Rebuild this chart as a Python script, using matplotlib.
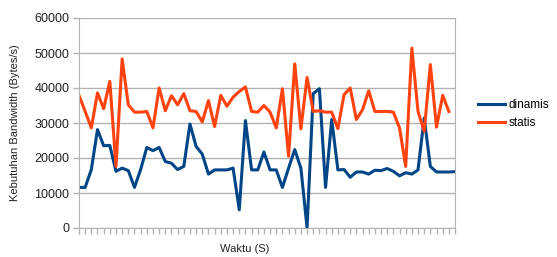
import numpy as np
import matplotlib
matplotlib.use("Agg")
import matplotlib.pyplot as plt

plt.rcParams["font.family"] = ["Liberation Sans", "DejaVu Sans"]

# nilai
dinamis = [11600, 11600, 16700, 28100, 23500, 23600, 16200, 17100, 16400, 11600,
           16700, 23000, 22100, 23000, 19000, 18500, 16700, 17600, 29700, 23300,
           21100, 15400, 16600, 16600, 16600, 17100, 5200, 30700, 16600, 16600,
           21700, 16600, 16600, 11600, 17100, 22400, 17100, 0, 38400, 39800,
           11600, 31000, 16600, 16700, 14500, 16000, 16000, 15400, 16500, 16400,
           17000, 16200, 14900, 15800, 15400, 16600, 31400, 17600, 16000, 16000,
           16000, 16100]
statis = [37900, 33300, 28600, 38600, 34100, 41900, 17600, 48300, 35200, 33100,
          33100, 33300, 28600, 40000, 33500, 37800, 35200, 38400, 33500, 33300,
          30300, 36400, 29000, 37900, 34800, 37400, 39000, 40300, 33300, 33100,
          35000, 33100, 28600, 39800, 20500, 46900, 28300, 43000, 33300, 33500,
          33100, 33100, 28400, 38100, 40000, 31000, 33800, 39200, 33300, 33300,
          33300, 33100, 28600, 17600, 51400, 33300, 27600, 46700, 28800, 37900,
          33300]
y_ticks = [0, 10000, 20000, 30000, 40000, 50000, 60000]

grey = "#b3b3b3"

fig = plt.figure(figsize=(5.57, 2.57), dpi=100)
ax = fig.add_axes([79 / 557, 1 - 228 / 257, 376 / 557, 210 / 257])

ax.plot(np.arange(len(dinamis)), dinamis, color="#004586", lw=2.2, label="dinamis")
ax.plot(np.arange(len(statis)), statis, color="#ff420e", lw=2.2, label="statis")

ax.set_xlim(0, len(dinamis) - 1)
ax.set_ylim(0, 60000)
ax.set_yticks(y_ticks)
ax.set_yticklabels([str(v) for v in y_ticks], fontsize=9, color="#222222")
ax.set_xticks(np.arange(len(dinamis)))
ax.set_xticklabels([])
ax.tick_params(axis="x", length=4, color=grey, width=1)
ax.tick_params(axis="y", length=4, color=grey, width=1, pad=3)
ax.grid(axis="y", color=grey, lw=1)
ax.set_axisbelow(True)
for s in ax.spines.values():
    s.set_color(grey)
ax.spines["top"].set_visible(False)

fig.text(15 / 557, 1 - 123 / 257, "Kebutuhan Bandwidth (Bytes/s)", rotation=90,
         ha="center", va="center", fontsize=8, color="#222222")
fig.text(245 / 557, 1 - 249 / 257, "Waktu (S)", ha="center", va="center",
         fontsize=8, color="#222222")

ax.legend(loc="upper left", bbox_to_anchor=(478 / 557, 1 - 99 / 257),
          bbox_transform=fig.transFigure, frameon=False, fontsize=8.5,
          handlelength=2.3, handletextpad=0.3, borderpad=0, borderaxespad=0,
          labelspacing=0.5)

fig.savefig("out.png", dpi=100)
